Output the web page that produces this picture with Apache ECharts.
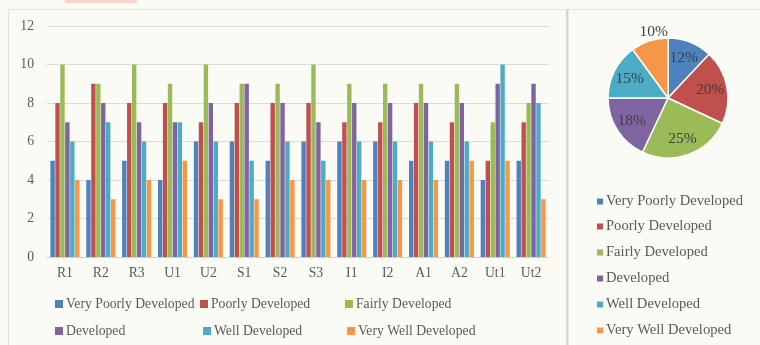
<!DOCTYPE html>
<html>
<head>
<meta charset="utf-8">
<script src="https://cdn.jsdelivr.net/npm/echarts@6/dist/echarts.min.js"></script>
<style>
  html, body { margin: 0; padding: 0; background: #fbfbf6; }
  #chart { width: 760px; height: 345px; }
</style>
</head>
<body>
<div id="chart"></div>
<script>
// Regions on the category axis
const categories = ['R1', 'R2', 'R3', 'U1', 'U2', 'S1', 'S2', 'S3', 'I1', 'I2', 'A1', 'A2', 'Ut1', 'Ut2'];

// Development levels (series names)
const levels = ['Very Poorly Developed', 'Poorly Developed', 'Fairly Developed',
                'Developed', 'Well Developed', 'Very Well Developed'];

// Counts per region for each level
const veryPoorly = [5, 4, 5, 4, 6, 6, 5, 6, 6, 6, 5, 5, 4, 5];
const poorly     = [8, 9, 8, 8, 7, 8, 8, 8, 7, 7, 8, 7, 5, 7];
const fairly     = [10, 9, 10, 9, 10, 9, 9, 10, 9, 9, 9, 9, 7, 8];
const developed  = [7, 8, 7, 7, 8, 9, 8, 7, 8, 8, 8, 8, 9, 9];
const well       = [6, 7, 6, 7, 6, 5, 6, 5, 6, 6, 6, 6, 10, 8];
const veryWell   = [4, 3, 4, 5, 3, 3, 4, 4, 4, 4, 4, 5, 5, 3];

// Overall share of each level (percent)
const shares = [12, 20, 25, 18, 15, 10];

// Y axis ticks
const yMin = 0, yMax = 12, yStep = 2;

const colors = ['#4F81BD', '#C0504D', '#9BBB59', '#8064A2', '#4BACC6', '#F79646'];
const seriesValues = [veryPoorly, poorly, fairly, developed, well, veryWell];

const FONT = '"Liberation Serif", "DejaVu Serif", serif';
const TXT = '#595959';

const barSeries = seriesValues.map((vals, i) => ({
  name: levels[i],
  type: 'bar',
  data: vals,
  barWidth: 4.4,
  barGap: '12%',
  itemStyle: { color: colors[i] },
  emphasis: { disabled: true }
}));

function legendItem(name, left, top, size, fontSize) {
  return {
    data: [name],
    left: left,
    top: top,
    padding: 0,
    icon: 'rect',
    itemWidth: size,
    itemHeight: size,
    itemGap: 0,
    selectedMode: false,
    textStyle: { fontFamily: FONT, fontSize: fontSize, color: TXT, padding: [0, 0, 0, -2] }
  };
}

// Bottom legend laid out as two rows of three columns
const barSpots = [
  [55, 297], [200, 297], [345, 297],
  [55, 324], [203, 324], [347, 324]
];
// Pie legend: a single column
const pieSpots = [
  [597, 194], [597, 219], [597, 245], [597, 271], [597, 297], [597, 323]
];
const legends = levels.map((n, i) => legendItem(n, barSpots[i][0], barSpots[i][1], 8, 13.7))
  .concat(levels.map((n, i) => legendItem(n, pieSpots[i][0], pieSpots[i][1], 6, 14.6)));

const pieData = levels.map((name, i) => ({
  name: name,
  value: shares[i],
  itemStyle: { color: colors[i] }
}));

const option = {
  backgroundColor: '#fbfbf6',
  animation: false,
  color: colors,
  textStyle: { fontFamily: FONT },
  graphic: [
    // panel frames
    { type: 'line', shape: { x1: 8, y1: 9.5, x2: 760, y2: 9.5 }, style: { stroke: '#e2e2de', lineWidth: 1 }, silent: true },
    { type: 'line', shape: { x1: 8.5, y1: 9, x2: 8.5, y2: 345 }, style: { stroke: '#e2e2de', lineWidth: 1 }, silent: true },
    { type: 'rect', shape: { x: 566, y: 9, width: 2.5, height: 336 }, style: { fill: '#d6d6d4' }, silent: true },
    // highlighted caption strip above the frame
    { type: 'rect', shape: { x: 65, y: 0, width: 72, height: 3 }, style: { fill: '#f7d4cc' }, silent: true }
  ],
  grid: { left: 47, right: 211, top: 26, bottom: 88, containLabel: false },
  xAxis: {
    type: 'category',
    data: categories,
    axisTick: { show: false },
    axisLine: { lineStyle: { color: '#d0d0d0', width: 1 } },
    axisLabel: { fontFamily: FONT, fontSize: 13.7, color: TXT, margin: 9 }
  },
  yAxis: {
    type: 'value',
    min: yMin, max: yMax, interval: yStep,
    axisLine: { show: false },
    axisTick: { show: false },
    splitLine: { lineStyle: { color: '#dadad8', width: 1 } },
    axisLabel: { fontFamily: FONT, fontSize: 13.7, color: TXT, margin: 13 }
  },
  legend: legends,
  series: barSeries.concat([
    {
      name: 'share',
      type: 'pie',
      center: [668, 98],
      radius: [0, 60],
      startAngle: 90,
      clockwise: true,
      data: pieData,
      itemStyle: { borderColor: '#ffffff', borderWidth: 1.5 },
      label: { show: false },
      labelLine: { show: false },
      emphasis: { disabled: true },
      silent: true
    },
    {
      // label ring: places the percent text at mid-slice
      name: 'shareLabels',
      type: 'pie',
      center: [668, 98],
      radius: [20, 60],
      startAngle: 90,
      clockwise: true,
      data: pieData.map((d, i) => ({
        name: d.name,
        value: d.value,
        label: i === 5
          ? { position: 'outside', distanceToLabelLine: 0, offset: [19, -7] }
          : { position: 'inside' }
      })),
      itemStyle: { color: 'rgba(0,0,0,0)', borderWidth: 0 },
      label: {
        show: true,
        formatter: p => p.value + '%',
        fontFamily: FONT,
        fontSize: 15.5,
        color: '#404040'
      },
      labelLine: { show: false, length: 2, length2: 0 },
      emphasis: { disabled: true },
      silent: true
    }
  ])
};

const chart = echarts.init(document.getElementById('chart'), null, { renderer: 'canvas' });
chart.setOption(option);
</script>
</body>
</html>
